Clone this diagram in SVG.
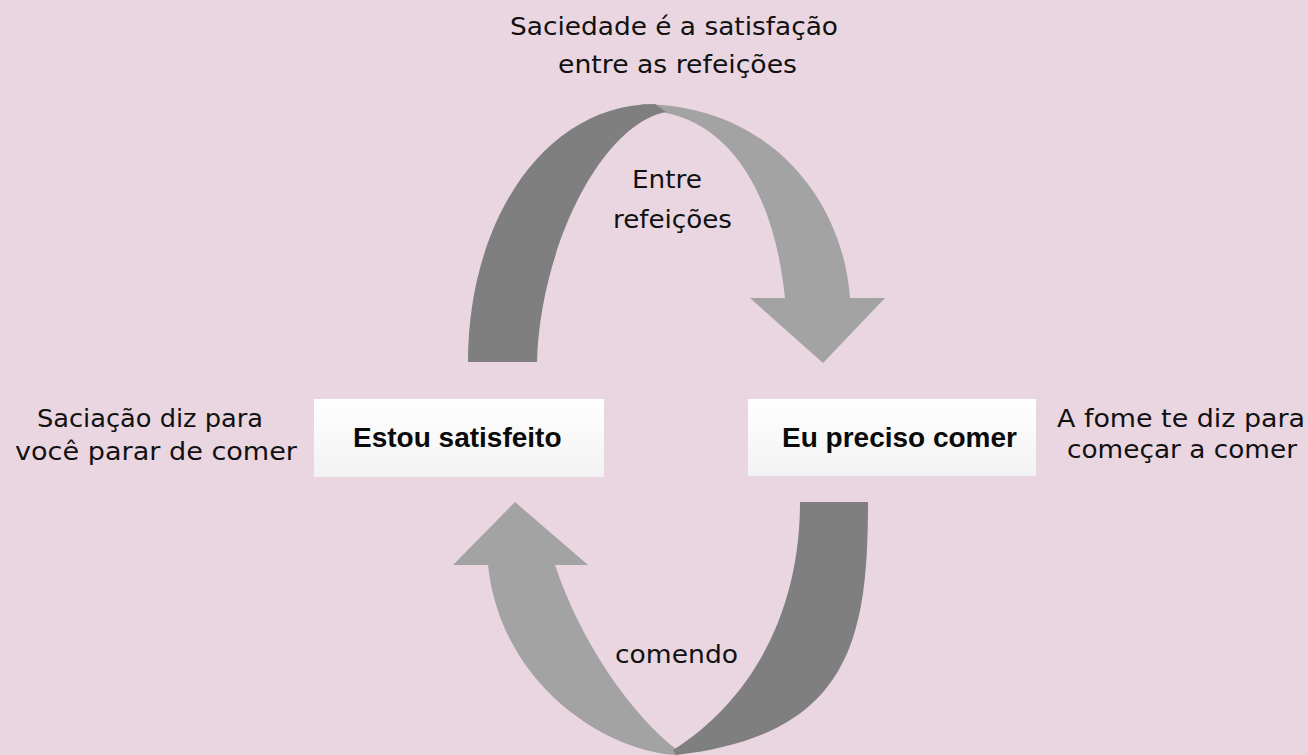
<svg xmlns="http://www.w3.org/2000/svg" width="1308" height="755" viewBox="0 0 1308 755">
<style>
.lbl{font-family:"DejaVu Sans","Liberation Sans",sans-serif;font-size:24px;fill:#111;}
.box{fill:url(#boxg);}
.btxt{font-family:"Liberation Sans",Arial,sans-serif;font-size:28px;font-weight:bold;fill:#0a0a0a;}
.dark{fill:#7f7f7f;}
.light{fill:#a3a3a3;}
</style>
<defs>
<linearGradient id="boxg" x1="0" y1="0" x2="0" y2="1">
<stop offset="0" stop-color="#ffffff"/>
<stop offset="1" stop-color="#f3f2f3"/>
</linearGradient>
</defs>
<rect width="1308" height="755" fill="#e9d6e1"/>
<g id="connectors">
<g id="arrow-top">
<path class="light" d="M640,104 C770,104 843,200 850,298 L885,298 L823,363 L750,298 L785,298 C775,200 735,125 662,112 Z"/>
<path class="dark" d="M468,362 C468,220 545,104 655,104 L666,112 C600,125 540,250 537,362 Z"/>
</g>
<g id="arrow-bottom">
<path class="light" d="M515,502 L588,565 L555,565 C580,640 630,715 680,752 L676,755 C600,750 500,680 488,565 L453,565 Z"/>
<path class="dark" d="M800,502 L868,502 C868,640 850,735 676,755 L673,750 C745,705 800,620 800,502 Z"/>
</g>
<text class="lbl" x="632" y="188" textLength="70" lengthAdjust="spacingAndGlyphs">Entre</text>
<text class="lbl" x="613" y="228" textLength="119" lengthAdjust="spacingAndGlyphs">refeições</text>
<text class="lbl" x="615" y="663" textLength="123" lengthAdjust="spacingAndGlyphs">comendo</text>
</g>
<g id="note-top">
<text class="lbl" x="510" y="35" textLength="328" lengthAdjust="spacingAndGlyphs">Saciedade é a satisfação</text>
<text class="lbl" x="558" y="73" textLength="239" lengthAdjust="spacingAndGlyphs">entre as refeições</text>
</g>
<g id="note-left">
<text class="lbl" x="37" y="427" textLength="226" lengthAdjust="spacingAndGlyphs">Saciação diz para</text>
<text class="lbl" x="15" y="460" textLength="282" lengthAdjust="spacingAndGlyphs">você parar de comer</text>
</g>
<g id="note-right">
<text class="lbl" x="1057" y="427" textLength="248" lengthAdjust="spacingAndGlyphs">A fome te diz para</text>
<text class="lbl" x="1067" y="458" textLength="230" lengthAdjust="spacingAndGlyphs">começar a comer</text>
</g>
<g id="node-satisfeito">
<rect class="box" x="314" y="399" width="290" height="78"/>
<text class="btxt" x="353" y="447">Estou satisfeito</text>
</g>
<g id="node-comer">
<rect class="box" x="748" y="399" width="288" height="77"/>
<text class="btxt" x="782" y="447">Eu preciso comer</text>
</g>
</svg>
